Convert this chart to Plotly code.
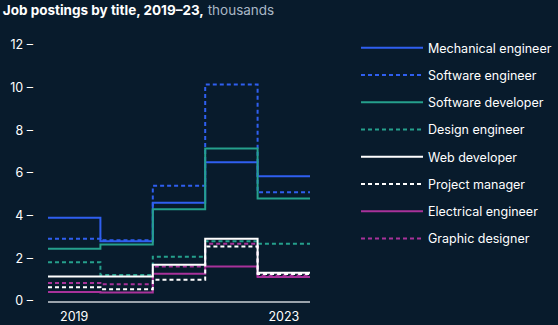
import plotly.graph_objects as go

years = [2019, 2020, 2021, 2022, 2023]
titles = ["Mechanical engineer", "Software engineer", "Software developer", "Design engineer",
          "Web developer", "Project manager", "Electrical engineer", "Graphic designer"]

mechanical_engineer = [3.9, 2.8, 4.6, 6.5, 5.85]
software_engineer = [2.92, 2.85, 5.4, 10.15, 5.1]
software_developer = [2.45, 2.65, 4.3, 7.15, 4.8]
design_engineer = [1.82, 1.22, 2.08, 2.8, 2.68]
web_developer = [1.15, 1.15, 1.7, 2.92, 1.33]
project_manager = [0.64, 0.55, 1.0, 2.55, 1.27]
electrical_engineer = [0.42, 0.4, 1.28, 1.62, 1.13]
graphic_designer = [0.84, 0.78, 1.62, 2.68, 1.2]

y_ticks = [0, 2, 4, 6, 8, 10, 12]

series = [mechanical_engineer, software_engineer, software_developer, design_engineer,
          web_developer, project_manager, electrical_engineer, graphic_designer]

BLUE = "#2f5ff0"
GREEN = "#25a08c"
WHITE = "#ffffff"
MAGENTA = "#a8329a"
styles = [(BLUE, "solid"), (BLUE, "4px,3px"), (GREEN, "solid"), (GREEN, "4px,3px"),
          (WHITE, "solid"), (WHITE, "4px,3px"), (MAGENTA, "solid"), (MAGENTA, "4px,3px")]

edges = [y - 0.5 for y in years] + [years[-1] + 0.5]

fig = go.Figure()
for i in range(len(titles)):
    vals = series[i]
    col, dash = styles[i]
    fig.add_trace(go.Scatter(
        x=edges, y=vals + [vals[-1]], mode="lines", line_shape="hv",
        name=titles[i], legendgroup=titles[i], legendrank=i + 1,
        line=dict(color=col, width=2, dash=dash), hoverinfo="skip"))

# draw order: solids on top of dashes roughly as in reference
fig.data = tuple(fig.data[k] for k in [1, 3, 7, 0, 2, 6, 5, 4])

BG = "#081b2c"
fig.update_layout(
    width=558, height=325, paper_bgcolor=BG, plot_bgcolor=BG,
    margin=dict(l=48, r=248, t=45, b=24, autoexpand=False),
    font=dict(family="Inter, Liberation Sans, sans-serif", color="#ffffff", size=12),
    title=dict(text='<b>Job postings by title, 2019–23,</b> <span style="color:#a9b7c6">thousands</span>',
               x=0.005, xref="container", xanchor="left", y=0.968, yref="container", yanchor="middle",
               font=dict(size=13.5, color="#ffffff")),
    showlegend=True,
    legend=dict(xref="container", yref="container", x=0.638, y=0.898, xanchor="left", yanchor="top",
                font=dict(size=12.5, color="#ffffff"), bgcolor="rgba(0,0,0,0)",
                tracegroupgap=8, itemwidth=62, traceorder="grouped", maxheight=400),
    xaxis=dict(range=[2018.5, 2023.5], tickvals=[2019, 2023], ticktext=["2019", "2023"],
               showgrid=False, zeroline=False, showline=True, linecolor="#9aa3ab", linewidth=2,
               ticks="", tickfont=dict(size=12.5, color="#ffffff"), ticklabelstandoff=3,
               automargin=False),
    yaxis=dict(range=[0, 12], tickvals=y_ticks, ticktext=[f"{v} –" for v in y_ticks],
               showgrid=False, zeroline=False, showline=False, ticks="",
               tickfont=dict(size=12.5, color="#ffffff"), ticklabelstandoff=14,
               automargin=False),
)
fig.write_html("out.html")
